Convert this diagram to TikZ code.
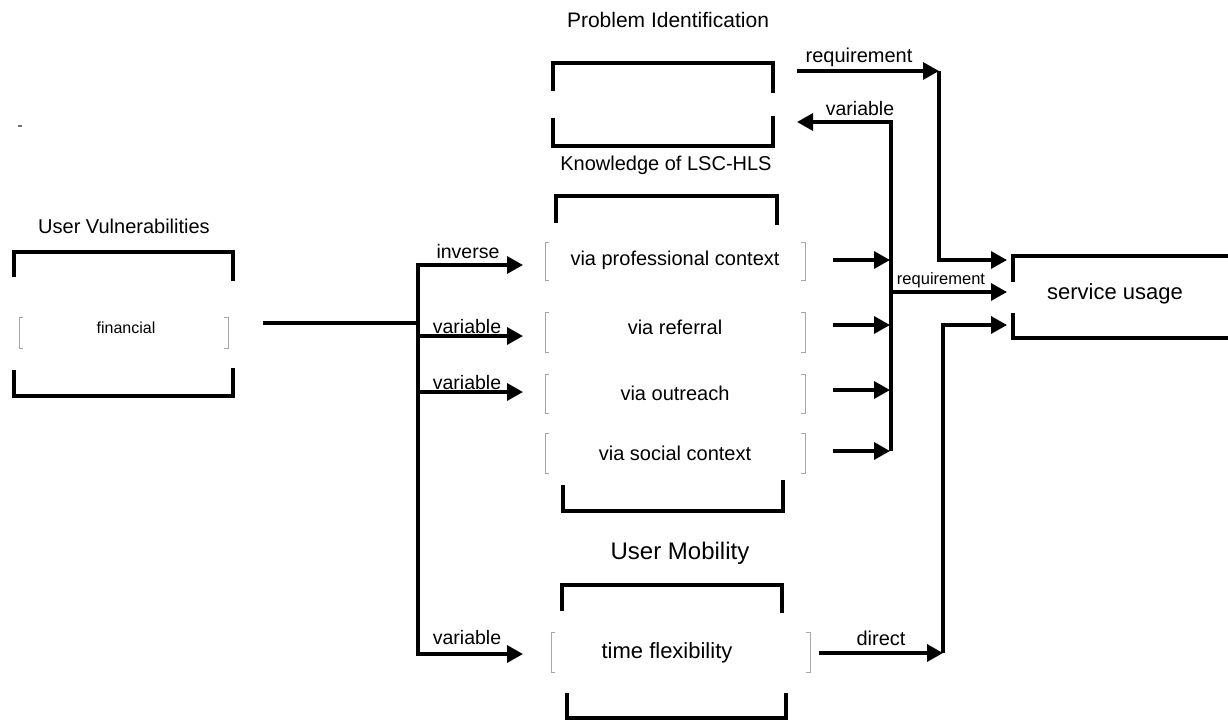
\documentclass[tikz,border=0pt]{standalone}
\usepackage{fontspec}
\setmainfont{Liberation Sans}
\usetikzlibrary{arrows.meta}

\begin{document}
\begin{tikzpicture}[x=1pt,y=-1pt,
  txt/.style={inner sep=0pt,font=\fontsize{#1}{#1}\selectfont},
  heavy/.style={line width=3.4pt},
  arr/.style={heavy,-{Triangle[length=16pt,width=17pt]}},
  thinbr/.style={draw=black!35,line width=0.9pt}]

% canvas
\fill[white] (0,0) rectangle (1228,720);
\useasboundingbox (0,0) rectangle (1228,720);
\draw[black!55,line width=1.5pt] (18,126) -- (22,126);

% ---------- User Vulnerabilities ----------
\node[txt=20] (uvTitle) at (124,226) {User Vulnerabilities};
\draw[heavy] (14,277) |- (233,252) -- (233,281);
\draw[heavy] (14,370) |- (233,396) -- (233,368);
\draw[thinbr] (23,317) -- (19,317) -- (19,348) -- (23,348);
\draw[thinbr] (224,317) -- (228,317) -- (228,348) -- (224,348);
\node[txt=16] (fin) at (126,328) {financial};

% ---------- Problem Identification ----------
\node[txt=21] (piTitle) at (668,20) {Problem Identification};
\draw[heavy] (553,91) |- (773,63) -- (773,93);
\draw[heavy] (553,118) |- (773,146) -- (773,116);

% ---------- Knowledge of LSC-HLS ----------
\node[txt=20] (kTitle) at (666,165) {Knowledge of LSC-HLS};
\draw[heavy] (556,223) |- (777,196) -- (777,225);
\draw[heavy] (563,485) |- (783,511) -- (783,480);
% rows
\foreach \t/\b in {242/280,312/352,374/413,433/473}{
  \draw[thinbr] (549,\t) -- (545,\t) -- (545,\b) -- (549,\b);
  \draw[thinbr] (801,\t) -- (805,\t) -- (805,\b) -- (801,\b);
}
\node[txt=20] (prof) at (675,260) {via professional context};
\node[txt=20] (refl) at (675,327) {via referral};
\node[txt=20] (outr) at (675,393) {via outreach};
\node[txt=20] (soc)  at (675,453) {via social context};

% ---------- User Mobility ----------
\node[txt=24] (umTitle) at (680,553) {User Mobility};
\draw[heavy] (562,611) |- (782,585) -- (782,613);
\draw[heavy] (567,693) |- (786,718) -- (786,693);
\draw[thinbr] (555,632) -- (551,632) -- (551,672) -- (555,672);
\draw[thinbr] (806,632) -- (810,632) -- (810,672) -- (806,672);
\node[txt=22] (tf) at (667,653) {time flexibility};

% ---------- service usage ----------
\draw[heavy] (1013,282) |- (1230,256);
\draw[heavy] (1013,313) |- (1230,338);
\node[txt=22] (su) at (1115,294) {service usage};

% ---------- connectors: left bus ----------
\coordinate (finOut) at (263,323);
\coordinate (lbus)   at (418,323);
\coordinate (tProf)  at (523,265);
\coordinate (tRef)   at (523,336);
\coordinate (tOut)   at (523,392);
\coordinate (tTime)  at (523,654);
\draw[heavy] (finOut) -- (lbus);
\draw[arr] (lbus) |- (tProf);
\draw[arr] (lbus) |- (tRef);
\draw[arr] (lbus) |- (tOut);
\draw[arr] (lbus) |- (tTime);
\node[txt=19.5] (lInv)  at (468,252) {inverse};
\node[txt=19.5] (lVar1) at (467,327) {variable};
\node[txt=19.5] (lVar2) at (467,383) {variable};
\node[txt=19.5] (lVar3) at (467,638) {variable};

% ---------- connectors: right bus ----------
\coordinate (rbTop) at (891,122);
\coordinate (rbBot) at (891,451);
\coordinate (piIn)  at (797,122);
\draw[arr] (rbBot) -- (rbTop) -- (piIn);
\foreach \y in {260,325,390,451}{
  \draw[arr] (833,\y) -- (890,\y);
}
\coordinate (rbReq) at (891,292);
\coordinate (suIn2) at (1007,292);
\draw[arr] (rbReq) -- (suIn2);

\coordinate (piOut)     at (797,71);
\coordinate (reqCorner) at (939,71);
\coordinate (suIn1)     at (1007,260);
\draw[arr] (piOut) -- (reqCorner);
\draw[arr] (reqCorner) |- (suIn1);

\coordinate (tfOut)     at (819,653);
\coordinate (dirCorner) at (943,653);
\coordinate (suIn3)     at (1007,325);
\draw[arr] (tfOut) -- (dirCorner);
\draw[arr] (dirCorner) |- (suIn3);

\node[txt=20]   (lReq1) at (859,57)  {requirement};
\node[txt=19.5] (lVar4) at (860,109) {variable};
\node[txt=16.5] (lReq2) at (941,280) {requirement};
\node[txt=20]   (lDir)  at (881,638) {direct};

\end{tikzpicture}
\end{document}
